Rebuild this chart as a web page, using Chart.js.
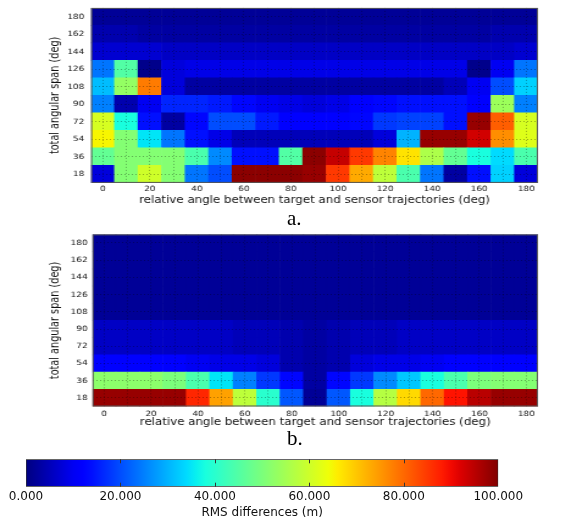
<!DOCTYPE html>
<html>
<head>
<meta charset="utf-8">
<script src="https://cdn.jsdelivr.net/npm/chart.js@4.4.0/dist/chart.umd.min.js"></script>
<style>
  body { margin: 0; background: #fff; width: 580px; height: 527px; overflow: hidden; position: relative; }
  .stretch { position: absolute; left: 0; transform: scaleX(1.22); transform-origin: 0 0; }
  .tag { position: absolute; font-family: 'Liberation Serif', 'Times New Roman', serif; font-size: 21px; line-height: 21px; color: #000; }
</style>
</head>
<body>
<div class="stretch" style="top:-2px"><canvas id="mapA" width="460" height="210"></canvas></div>
<div class="tag" style="left:287px;top:208px">a.</div>
<div class="stretch" style="top:226px"><canvas id="mapB" width="460" height="204"></canvas></div>
<div class="tag" style="left:287px;top:428px">b.</div>
<div style="position:absolute;left:0;top:455px"><canvas id="cbar" width="580" height="70"></canvas></div>
<script>
const angles = [0, 10, 20, 30, 40, 50, 60, 70, 80, 90, 100, 110, 120, 130, 140, 150, 160, 170, 180];
const spans = [18, 36, 54, 72, 90, 108, 126, 144, 162, 180];
const barTicks = [0, 20, 40, 60, 80, 100];

// panel a: RMS differences (m), one row per total angular span
const a18  = [8, 51, 60, 51, 24, 20, 99, 99, 99, 98, 85, 73, 58, 44, 24, 3, 14, 33, 8];
const a36  = [47, 51, 51, 51, 44, 26, 14, 14, 45, 99, 94, 85, 77, 67, 56, 47, 38, 34, 44];
const a54  = [65, 51, 35, 24, 14, 9, 5, 5, 5, 5, 5, 5, 8, 30, 98, 98, 93, 76, 62];
const a72  = [61, 38, 14, 3, 13, 20, 20, 15, 12, 11, 11, 13, 18, 19, 19, 14, 98, 81, 61];
const a90  = [25, 4, 10, 16, 16, 15, 13, 10, 9, 8, 9, 11, 13, 14, 14, 14, 11, 54, 25];
const a108 = [31, 53, 78, 8, 3, 3, 3, 3, 3, 3, 3, 3, 3, 3, 3, 5, 10, 20, 33];
const a126 = [24, 45, 1, 8, 9, 9, 9, 9, 9, 9, 9, 9, 9, 9, 9, 9, 1, 10, 24];
const a144 = [7, 7, 7, 6, 6, 6, 6, 6, 6, 6, 6, 6, 6, 6, 6, 6, 6, 6, 7];
const a162 = [4, 4, 3, 3, 3, 3, 3, 3, 3, 3, 3, 3, 3, 3, 3, 3, 3, 4, 4];
const a180 = [2, 2, 2, 2, 2, 2, 2, 2, 2, 2, 2, 2, 2, 2, 2, 2, 2, 2, 2];

// panel b
const b18  = [98, 98, 98, 98, 87, 74, 58, 40, 21, 2, 21, 38, 57, 68, 80, 89, 95, 98, 98];
const b36  = [52, 52, 52, 50, 44, 35, 25, 18, 13, 3, 13, 18, 26, 32, 38, 44, 50, 51, 51];
const b54  = [11, 11, 11, 11, 10, 9, 9, 8, 4, 3, 4, 8, 9, 9, 10, 11, 11, 11, 11];
const b72  = [6, 6, 6, 6, 6, 6, 5, 5, 4, 3, 4, 5, 5, 6, 6, 6, 6, 6, 6];
const b90  = [6, 6, 6, 6, 6, 6, 5, 5, 4, 3, 4, 5, 5, 6, 6, 6, 6, 6, 6];
const b108 = [2, 2, 2, 2, 2, 2, 2, 2, 2, 2, 2, 2, 2, 2, 2, 2, 2, 2, 2];
const b126 = [2, 2, 2, 2, 2, 2, 2, 2, 2, 2, 2, 2, 2, 2, 2, 2, 2, 2, 2];
const b144 = [2, 2, 2, 2, 2, 2, 2, 2, 2, 2, 2, 2, 2, 2, 2, 2, 2, 2, 2];
const b162 = [2, 2, 2, 2, 2, 2, 2, 2, 2, 2, 2, 2, 2, 2, 2, 2, 2, 2, 2];
const b180 = [2, 2, 2, 2, 2, 2, 2, 2, 2, 2, 2, 2, 2, 2, 2, 2, 2, 2, 2];

const rowsA = [a18, a36, a54, a72, a90, a108, a126, a144, a162, a180];
const rowsB = [b18, b36, b54, b72, b90, b108, b126, b144, b162, b180];

const FONT = 'DejaVu Sans';

// matplotlib "jet" colormap, value range 0..100
function jet(v) {
	const t = Math.min(Math.max(v / 100, 0), 1);
	const seg = (pts) => {
		for (let i = 1; i < pts.length; i++) {
			if (t <= pts[i][0]) {
				const [x0, y0] = pts[i - 1];
				const [x1, y1] = pts[i];
				return y0 + (y1 - y0) * (t - x0) / (x1 - x0);
			}
		}
		return pts[pts.length - 1][1];
	};
	const r = seg([[0, 0], [0.35, 0], [0.66, 1], [0.89, 1], [1, 0.5]]);
	const g = seg([[0, 0], [0.125, 0], [0.375, 1], [0.64, 1], [0.91, 0], [1, 0]]);
	const b = seg([[0, 0.5], [0.11, 1], [0.34, 1], [0.65, 0], [1, 0]]);
	return `rgb(${Math.round(r * 255)},${Math.round(g * 255)},${Math.round(b * 255)})`;
}

const frame = {
	id: 'frame',
	afterDraw(chart) {
		const { ctx, chartArea: a } = chart;
		ctx.save();
		ctx.strokeStyle = '#555';
		ctx.lineWidth = 1;
		ctx.strokeRect(a.left + 0.5, a.top + 0.5, a.right - a.left - 1, a.bottom - a.top - 1);
		ctx.restore();
	},
};

function heatmap(id, rows, opt) {
	// dotted grid over the cells, one line per column / row centre
	const grid = { offset: false, drawTicks: false, color: 'rgba(0,0,0,0.4)', lineWidth: 0.8, z: 1 };
	const border = { display: false, dash: [1, 2] };
	new Chart(document.getElementById(id), {
		type: 'bar',
		data: {
			labels: angles.map(String),
			datasets: rows.map((vals, i) => ({
				data: vals.map(() => [spans[i] - 9, spans[i] + 9]),
				backgroundColor: vals.map(jet),
				borderWidth: 0,
				barPercentage: 1,
				categoryPercentage: 1,
				grouped: false,
			})),
		},
		options: {
			responsive: false,
			animation: false,
			layout: { padding: { top: opt.top, right: 19, bottom: 2, left: 0 } },
			plugins: { legend: { display: false }, tooltip: { enabled: false } },
			scales: {
				x: {
					grid,
					border,
					ticks: {
						autoSkip: false,
						maxRotation: 0,
						padding: opt.xPad,
						color: '#111',
						font: { family: FONT, size: 7.3 },
						callback: (v, i) => (i % 2 ? '' : angles[i]),
					},
					title: {
						display: true,
						text: 'relative angle between target and sensor trajectories (deg)',
						padding: 0,
						color: '#111',
						font: { family: FONT, size: 9.7 },
					},
					afterFit: (s) => { s.height = opt.xHeight; },
				},
				y: {
					min: 9,
					max: 189,
					afterBuildTicks: (s) => { s.ticks = spans.map((v) => ({ value: v })); },
					grid,
					border,
					ticks: { padding: opt.yPad, color: '#111', font: { family: FONT, size: 7.3 } },
					title: {
						display: true,
						text: 'total angular span (deg)',
						padding: { top: 39.7 },
						color: '#111',
						font: { family: FONT, size: 9.7 },
					},
					afterFit: (s) => { s.width = opt.yWidth; },
				},
			},
		},
		plugins: [frame],
	});
}

heatmap('mapA', rowsA, { top: 0, xPad: 2.3, xHeight: 23.1, yPad: 5.5, yWidth: 74.6 });
heatmap('mapB', rowsB, { top: 5.7, xPad: 3.3, xHeight: 21.5, yPad: 4, yWidth: 75.8 });

// colour bar
function jetGradient(chart) {
	const a = chart.chartArea;
	if (!a) return jet(50);
	const g = chart.ctx.createLinearGradient(a.left, 0, a.right, 0);
	for (let i = 0; i <= 50; i++) g.addColorStop(i / 50, jet(i * 2));
	return g;
}

const barTickMarks = {
	id: 'barTickMarks',
	afterDraw(chart) {
		const { ctx, chartArea: a } = chart;
		const sx = chart.scales.x;
		ctx.save();
		ctx.strokeStyle = '#333';
		ctx.lineWidth = 1;
		barTicks.slice(1, -1).forEach((v) => {
			const x = Math.round(sx.getPixelForValue(v)) + 0.5;
			ctx.beginPath();
			ctx.moveTo(x, a.top); ctx.lineTo(x, a.top + 4);
			ctx.moveTo(x, a.bottom); ctx.lineTo(x, a.bottom - 4);
			ctx.stroke();
		});
		ctx.restore();
	},
};

new Chart(document.getElementById('cbar'), {
	type: 'bar',
	data: {
		labels: ['RMS'],
		datasets: [{
			data: [[0, 100]],
			backgroundColor: (c) => jetGradient(c.chart),
			borderWidth: 1,
			borderColor: '#333',
			borderSkipped: false,
			barPercentage: 1,
			categoryPercentage: 1,
		}],
	},
	options: {
		indexAxis: 'y',
		responsive: false,
		animation: false,
		layout: { padding: { left: 26, right: 81.7, top: 4.3, bottom: 5.1 } },
		plugins: { legend: { display: false }, tooltip: { enabled: false } },
		scales: {
			x: {
				min: 0,
				max: 100,
				afterBuildTicks: (s) => { s.ticks = barTicks.map((v) => ({ value: v })); },
				grid: { display: false, drawTicks: false },
				border: { display: false },
				ticks: { padding: 3, color: '#111', font: { family: FONT, size: 12 }, callback: (v) => v.toFixed(3) },
				title: { display: true, text: 'RMS differences (m)', padding: 0, color: '#111', font: { family: FONT, size: 12 } },
				afterFit: (s) => { s.height = 33.2; },
			},
			y: { display: false },
		},
	},
	plugins: [barTickMarks],
});
</script>
</body>
</html>
